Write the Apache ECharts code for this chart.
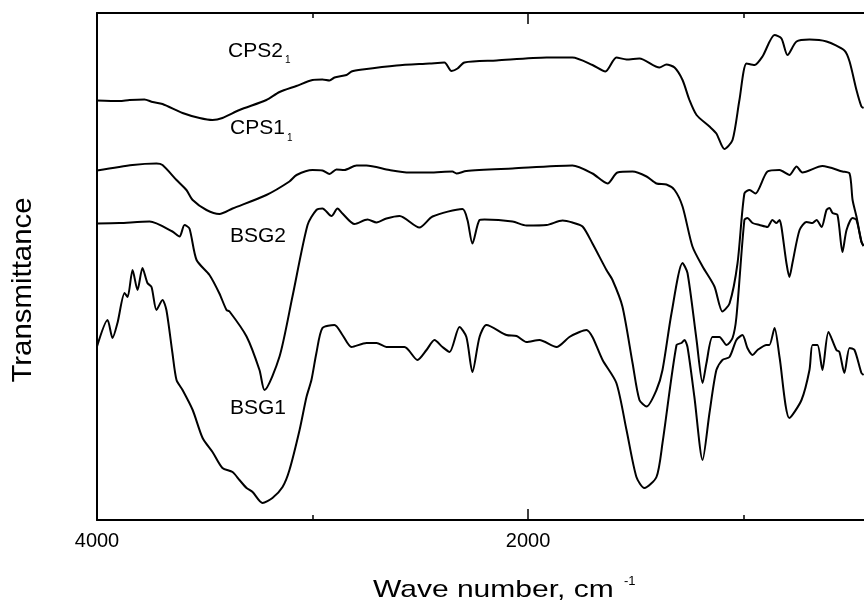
<!DOCTYPE html>
<html>
<head>
<meta charset="utf-8">
<script src="https://cdn.jsdelivr.net/npm/echarts@6/dist/echarts.min.js"></script>
<style>html,body{margin:0;padding:0;background:#fff;}#c{width:864px;height:603px;}</style>
</head>
<body>
<div id="c"></div>
<script>
// x: wave number (cm^-1), y: transmittance (arbitrary units, curves offset)
const seriesNames = ['CPS2\u2081', 'CPS1\u2081', 'BSG2', 'BSG1'];
const majorTicks = [4000, 2000];
const minorTicks = [3000, 1000];

const CPS2 = [[4000,83.9],[3896,83.8],[3849,84.0],[3780,84.1],[3742,83.6],[3696,83.2],[3603,81.4],[3524,80.4],[3464,80.0],[3418,80.4],[3339,82.0],[3214,84.0],[3153,85.6],[3075,86.8],[3000,88.0],[2954,88.1],[2921,87.9],[2898,88.5],[2842,89.0],[2819,89.7],[2768,90.1],[2610,90.9],[2457,91.3],[2388,91.5],[2355,89.8],[2327,90.3],[2295,91.5],[2146,91.9],[1914,92.5],[1794,92.5],[1701,91.0],[1641,89.7],[1590,92.5],[1543,92.1],[1483,92.3],[1390,90.5],[1358,91.1],[1320,90.5],[1283,88.0],[1251,84.0],[1218,81.0],[1158,78.7],[1126,77.3],[1089,74.2],[1051,76.0],[1019,84.0],[986,91.3],[949,91.0],[912,92.7],[856,97.0],[824,96.3],[796,93.0],[754,95.7],[694,96.1],[615,95.7],[532,93.9],[508,91.7],[476,86.0],[453,82.7],[443,82.4]];

const CPS1 = [[4000,69.9],[3835,71.0],[3724,71.3],[3696,71.0],[3631,68.0],[3585,66.0],[3556,64.0],[3492,62.0],[3432,61.2],[3371,62.3],[3214,65.0],[3107,67.7],[3074,69.0],[3000,70.0],[2954,69.9],[2921,69.2],[2889,70.1],[2852,70.0],[2796,70.9],[2750,70.9],[2643,70.0],[2550,69.5],[2457,69.5],[2351,69.7],[2332,69.3],[2286,69.8],[2072,70.3],[1794,70.9],[1701,69.3],[1631,67.3],[1585,69.5],[1515,69.7],[1450,68.7],[1404,67.3],[1358,67.1],[1320,66.0],[1283,62.7],[1237,54.7],[1190,50.7],[1135,46.7],[1098,41.7],[1065,43.3],[1028,51.3],[996,65.3],[972,66.0],[945,65.3],[889,69.7],[833,70.0],[787,69.0],[754,70.7],[727,69.5],[634,70.8],[541,69.7],[508,69.3],[494,64.0],[476,60.7],[453,55.7],[443,54.8]];

const BSG2 = [[4000,59.3],[3896,59.4],[3756,59.7],[3650,57.7],[3617,56.7],[3594,59.0],[3571,58.3],[3538,52.0],[3478,49.0],[3432,45.3],[3399,42.0],[3385,41.7],[3306,36.7],[3246,30.0],[3223,26.0],[3153,32.7],[3093,44.7],[3023,59.0],[2982,62.0],[2954,62.3],[2912,60.8],[2884,62.3],[2861,61.3],[2805,59.2],[2745,60.1],[2703,59.5],[2657,60.3],[2596,60.8],[2504,58.5],[2443,60.7],[2304,62.2],[2281,60.0],[2258,55.3],[2225,60.0],[2202,60.1],[2072,59.7],[2007,58.9],[1914,59.0],[1840,59.9],[1794,59.5],[1747,58.7],[1701,55.3],[1636,50.0],[1608,48.0],[1562,42.7],[1515,31.4],[1483,24.0],[1450,22.7],[1404,26.0],[1376,30.0],[1334,41.4],[1283,51.4],[1260,49.4],[1218,36.0],[1190,27.4],[1172,31.4],[1144,36.6],[1112,36.6],[1079,35.0],[1051,36.4],[1033,40.6],[996,60.0],[982,60.4],[958,59.4],[926,59.0],[889,58.6],[866,60.0],[847,59.4],[833,60.0],[824,58.6],[801,51.4],[787,48.6],[773,51.4],[740,58.0],[708,59.6],[680,59.4],[661,60.0],[638,58.6],[615,62.0],[601,62.4],[587,61.4],[564,61.0],[541,53.6],[522,58.0],[494,60.4],[476,60.0],[453,55.6],[443,54.8]];

const BSG1 = [[4000,34.7],[3951,40.0],[3928,36.4],[3905,39.4],[3872,45.4],[3858,44.6],[3835,50.0],[3812,46.0],[3789,50.4],[3766,47.4],[3747,46.6],[3724,42.0],[3696,44.0],[3678,42.0],[3650,33.4],[3631,28.0],[3603,26.0],[3556,22.0],[3510,16.4],[3464,13.6],[3418,10.4],[3371,9.6],[3339,8.0],[3306,6.4],[3278,5.6],[3232,3.4],[3186,4.4],[3139,6.6],[3107,10.0],[3060,18.0],[3028,24.6],[3005,28.0],[2982,33.4],[2954,38.4],[2898,39.0],[2861,37.0],[2819,34.6],[2750,35.4],[2703,35.4],[2657,34.6],[2573,34.6],[2513,32.0],[2471,34.0],[2434,36.0],[2397,34.6],[2364,33.6],[2318,38.6],[2286,36.6],[2258,29.6],[2225,36.6],[2193,39.0],[2100,37.0],[2053,36.8],[2007,35.6],[1947,36.0],[1868,34.6],[1808,36.6],[1761,37.6],[1729,38.0],[1701,36.6],[1654,32.0],[1590,27.4],[1543,18.0],[1497,8.6],[1460,6.4],[1404,8.6],[1376,15.4],[1311,35.0],[1288,35.4],[1274,36.0],[1260,34.6],[1228,24.6],[1190,12.0],[1158,21.4],[1126,30.0],[1098,32.0],[1065,32.6],[1033,36.0],[1005,37.0],[982,34.4],[958,33.0],[935,34.0],[893,35.0],[880,35.0],[856,38.4],[833,32.6],[787,20.4],[731,24.0],[694,30.0],[680,35.0],[657,35.0],[634,30.0],[606,37.6],[569,34.0],[555,33.6],[532,29.4],[508,34.4],[485,34.0],[453,29.4],[443,29.0]];

const allData = [CPS2, CPS1, BSG2, BSG1];

const chart = echarts.init(document.getElementById('c'), null, {renderer: 'canvas'});
const FONT = '"Liberation Sans", Arial, Helvetica, sans-serif';

function xAxisCfg(pos, ticks, len, showLine, showLabel) {
  return {
    type: 'value', position: pos, min: 441, max: 4000, inverse: true,
    axisLine: {show: showLine, onZero: false, lineStyle: {color: '#000', width: 2}},
    axisTick: {show: true, inside: true, length: len, customValues: ticks, lineStyle: {color: '#000', width: 1.5}},
    axisLabel: {show: showLabel, customValues: ticks, color: '#000', fontFamily: FONT, fontSize: 20, margin: 11,
      formatter: function (v) { return String(v); }},
    splitLine: {show: false}
  };
}

const option = {
  animation: false,
  backgroundColor: '#fff',
  grid: {left: 97, top: 13, right: 0, bottom: 83, containLabel: false},
  xAxis: [
    xAxisCfg('bottom', majorTicks, 11, true, true),
    xAxisCfg('top', majorTicks, 11, true, false),
    xAxisCfg('bottom', minorTicks, 5, false, false),
    xAxisCfg('top', minorTicks, 5, false, false)
  ],
  yAxis: {
    type: 'value', min: 0, max: 101.4,
    axisLine: {show: true, lineStyle: {color: '#000', width: 2}},
    axisTick: {show: false}, axisLabel: {show: false}, splitLine: {show: false}
  },
  series: allData.map(function (d, i) {
    return {
      name: seriesNames[i], type: 'line', data: d, showSymbol: false, symbol: 'none',
      smooth: 0.25, clip: true, xAxisIndex: 0,
      lineStyle: {color: '#000', width: 2}
    };
  }),
  graphic: [
    {type: 'text', x: 373, y: 590, scaleX: 1.25, style: {text: 'Wave number, cm', font: '24px ' + FONT, fill: '#000', textAlign: 'left', textVerticalAlign: 'middle'}},
    {type: 'text', x: 624, y: 581, style: {text: '-1', font: '13px ' + FONT, fill: '#000', textAlign: 'left', textVerticalAlign: 'middle'}},
    {type: 'text', x: 23, y: 290, rotation: Math.PI / 2, scaleX: 1.05, style: {text: 'Transmittance', font: '28px ' + FONT, fill: '#000', textAlign: 'center', textVerticalAlign: 'middle'}},
    {type: 'text', x: 228, y: 51, style: {text: 'CPS2', font: '21px ' + FONT, fill: '#000', textAlign: 'left', textVerticalAlign: 'middle'}},
    {type: 'text', x: 285, y: 60, style: {text: '1', font: '10px ' + FONT, fill: '#000', textAlign: 'left', textVerticalAlign: 'middle'}},
    {type: 'text', x: 230, y: 128.5, style: {text: 'CPS1', font: '21px ' + FONT, fill: '#000', textAlign: 'left', textVerticalAlign: 'middle'}},
    {type: 'text', x: 287, y: 138, style: {text: '1', font: '10px ' + FONT, fill: '#000', textAlign: 'left', textVerticalAlign: 'middle'}},
    {type: 'text', x: 230, y: 236, style: {text: 'BSG2', font: '21px ' + FONT, fill: '#000', textAlign: 'left', textVerticalAlign: 'middle'}},
    {type: 'text', x: 230, y: 408, style: {text: 'BSG1', font: '21px ' + FONT, fill: '#000', textAlign: 'left', textVerticalAlign: 'middle'}}
  ]
};
chart.setOption(option);
</script>
</body>
</html>
